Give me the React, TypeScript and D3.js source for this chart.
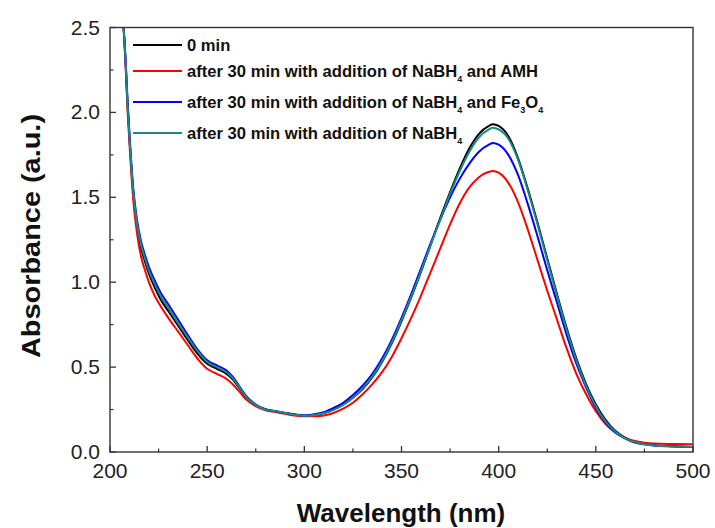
import React from "react";
import * as d3 from "d3";

const wl = [205, 207, 208, 209, 210, 212, 214, 216, 218, 220, 223, 226, 230, 235, 240, 245, 250, 255, 260, 263, 267, 270, 275, 280, 285, 290, 295, 300, 305, 310, 315, 320, 325, 330, 335, 340, 345, 350, 355, 360, 365, 370, 375, 380, 385, 390, 395, 397, 400, 405, 410, 415, 420, 425, 430, 435, 440, 445, 450, 455, 460, 465, 470, 475, 480, 490, 500];

const black = [2.75, 2.5, 2.3, 2.05, 1.85, 1.52, 1.32, 1.2, 1.12, 1.05, 0.97, 0.9, 0.83, 0.745, 0.66, 0.58, 0.52, 0.49, 0.46, 0.43, 0.37, 0.32, 0.275, 0.25, 0.24, 0.23, 0.22, 0.215, 0.22, 0.23, 0.25, 0.28, 0.32, 0.37, 0.44, 0.53, 0.64, 0.77, 0.91, 1.06, 1.22, 1.38, 1.53, 1.67, 1.79, 1.875, 1.92, 1.93, 1.92, 1.86, 1.73, 1.55, 1.35, 1.14, 0.93, 0.73, 0.55, 0.4, 0.28, 0.19, 0.125, 0.085, 0.06, 0.048, 0.04, 0.034, 0.03];

const red = [2.75, 2.5, 2.28, 2.02, 1.82, 1.48, 1.28, 1.15, 1.07, 1.0, 0.92, 0.86, 0.79, 0.71, 0.63, 0.55, 0.49, 0.46, 0.43, 0.4, 0.35, 0.31, 0.27, 0.245, 0.235, 0.225, 0.215, 0.21, 0.21, 0.215, 0.23, 0.255, 0.29, 0.34, 0.4, 0.47, 0.56, 0.67, 0.79, 0.92, 1.06, 1.2, 1.34, 1.465, 1.56, 1.62, 1.65, 1.655, 1.645, 1.585, 1.47, 1.31, 1.13, 0.95, 0.78, 0.61, 0.46, 0.34, 0.24, 0.165, 0.115, 0.085, 0.065, 0.055, 0.05, 0.047, 0.045];

const blue = [2.75, 2.5, 2.32, 2.08, 1.88, 1.55, 1.36, 1.24, 1.16, 1.09, 1.01, 0.94, 0.87, 0.78, 0.69, 0.605, 0.54, 0.51, 0.48, 0.445, 0.38, 0.33, 0.28, 0.252, 0.24, 0.23, 0.222, 0.215, 0.222, 0.235, 0.26, 0.29, 0.335, 0.39, 0.46, 0.55, 0.66, 0.79, 0.93, 1.08, 1.23, 1.37, 1.5, 1.61, 1.7, 1.77, 1.81, 1.82, 1.81, 1.75, 1.63, 1.46, 1.27, 1.07, 0.88, 0.69, 0.52, 0.38, 0.26, 0.175, 0.115, 0.08, 0.055, 0.045, 0.038, 0.033, 0.03];

const teal = [2.75, 2.5, 2.31, 2.06, 1.86, 1.53, 1.34, 1.22, 1.14, 1.07, 0.99, 0.92, 0.85, 0.76, 0.675, 0.595, 0.53, 0.5, 0.47, 0.437, 0.375, 0.325, 0.278, 0.25, 0.24, 0.23, 0.22, 0.213, 0.218, 0.228, 0.248, 0.278, 0.32, 0.375, 0.445, 0.535, 0.645, 0.775, 0.915, 1.065, 1.22, 1.37, 1.52, 1.655, 1.77, 1.855, 1.9, 1.91, 1.9, 1.845, 1.72, 1.54, 1.34, 1.13, 0.92, 0.72, 0.54, 0.39, 0.27, 0.18, 0.12, 0.082, 0.058, 0.046, 0.038, 0.033, 0.03];

const xTicks = [200, 250, 300, 350, 400, 450, 500];
const yTicks = [0.0, 0.5, 1.0, 1.5, 2.0, 2.5];

const series = [
  { name: "0 min", color: "#000000", values: black },
  { name: "red", color: "#ff0000", values: red },
  { name: "blue", color: "#0000ff", values: blue },
  { name: "teal", color: "#1a8a80", values: teal },
];

export default function App() {
  const W = 715, H = 528;
  const L = 110, R = 693, T = 27.5, B = 452;
  const x = d3.scaleLinear().domain([200, 500]).range([L, R]);
  const y = d3.scaleLinear().domain([0, 2.5]).range([B, T]);
  const line = d3
    .line<number>()
    .x((_, i) => x(wl[i]))
    .y((d) => y(d))
    .curve(d3.curveMonotoneX);

  const minorX = d3.range(225, 500, 50);
  const minorY = d3.range(0.25, 2.5, 0.5);
  const axisColor = "#333";
  const font = "Arial, 'Liberation Sans', sans-serif";

  const legendRows = [
    { color: "#000000", y: 45 },
    { color: "#ff0000", y: 71 },
    { color: "#0000ff", y: 102 },
    { color: "#1a8a80", y: 133 },
  ];
  const sub = { fontSize: 9 } as any;

  return (
    <svg width={W} height={H} style={{ position: "absolute", left: 0, top: 0 }} fontFamily={font}>
      <rect width={W} height={H} fill="#fff" />
      <defs>
        <clipPath id="plot">
          <rect x={L} y={T} width={R - L} height={B - T} />
        </clipPath>
      </defs>
      <g clipPath="url(#plot)">
        {series.map((s) => (
          <path key={s.name} d={line(s.values) || ""} fill="none" stroke={s.color} strokeWidth={2} />
        ))}
      </g>
      <rect x={L} y={T} width={R - L} height={B - T} fill="none" stroke={axisColor} strokeWidth={1.4} />
      {xTicks.map((t) => (
        <g key={"x" + t}>
          <line x1={x(t)} x2={x(t)} y1={B} y2={B - 6} stroke={axisColor} strokeWidth={1.3} />
          <text x={x(t)} y={478} textAnchor="middle" fontSize={21} fill="#222">{t}</text>
        </g>
      ))}
      {minorX.map((t) => (
        <line key={"mx" + t} x1={x(t)} x2={x(t)} y1={B} y2={B - 3.5} stroke={axisColor} strokeWidth={1.2} />
      ))}
      {yTicks.map((t) => (
        <g key={"y" + t}>
          <line x1={L} x2={L + 6} y1={y(t)} y2={y(t)} stroke={axisColor} strokeWidth={1.3} />
          <text x={100} y={y(t) + 7} textAnchor="end" fontSize={21} fill="#222">{t.toFixed(1)}</text>
        </g>
      ))}
      {minorY.map((t) => (
        <line key={"my" + t} x1={L} x2={L + 3.5} y1={y(t)} y2={y(t)} stroke={axisColor} strokeWidth={1.2} />
      ))}
      <text x={401} y={522} textAnchor="middle" fontSize={26} fontWeight="bold" fill="#111">Wavelength (nm)</text>
      <text transform={`translate(40,${236}) rotate(-90)`} textAnchor="middle" fontSize={26} fontWeight="bold" fill="#111" textLength={244} lengthAdjust="spacingAndGlyphs">Absorbance (a.u.)</text>
      {legendRows.map((r, i) => (
        <line key={"lg" + i} x1={133} x2={182} y1={r.y} y2={r.y} stroke={r.color} strokeWidth={2.2} />
      ))}
      <g fontSize={16.6} fontWeight="bold" fill="#111">
        <text x={187} y={legendRows[0].y + 5.5}>0 min</text>
        <text x={187} y={legendRows[1].y + 5.5}>
          after 30 min with addition of NaBH<tspan style={sub} dy={5}>4</tspan><tspan dy={-5}> and AMH</tspan>
        </text>
        <text x={187} y={legendRows[2].y + 5.5}>
          after 30 min with addition of NaBH<tspan style={sub} dy={5}>4</tspan><tspan dy={-5}> and Fe</tspan><tspan style={sub} dy={5}>3</tspan><tspan dy={-5}>O</tspan><tspan style={sub} dy={5}>4</tspan>
        </text>
        <text x={187} y={legendRows[3].y + 5.5}>
          after 30 min with addition of NaBH<tspan style={sub} dy={5}>4</tspan>
        </text>
      </g>
    </svg>
  );
}
